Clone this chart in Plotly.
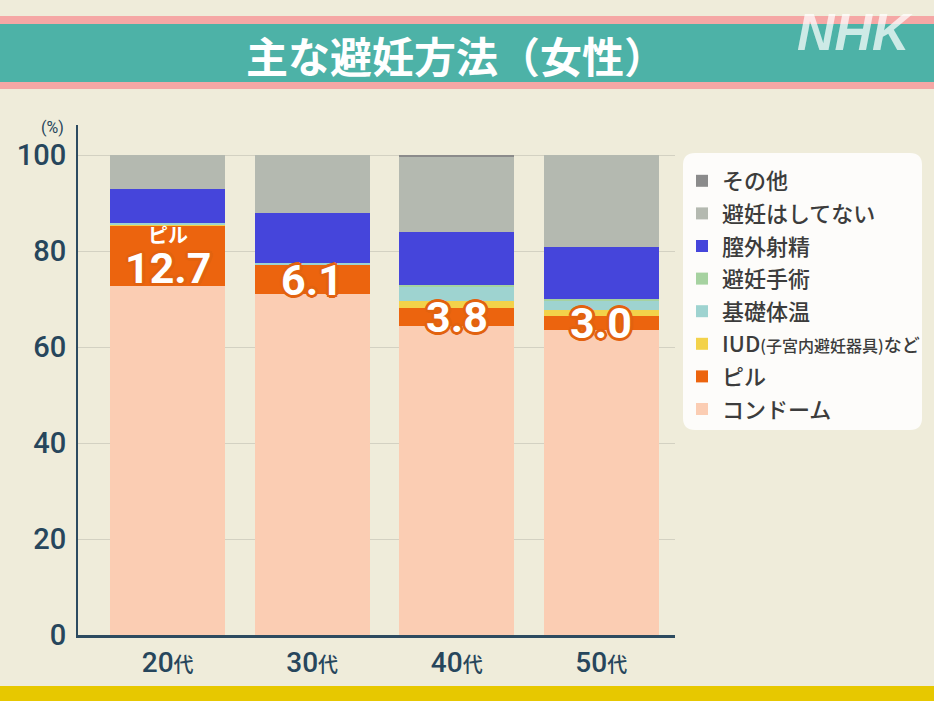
import plotly.graph_objects as go

categories = ["20代", "30代", "40代", "50代"]
tick_labels = ["20<span style='font-size:20px'>代</span>",
               "30<span style='font-size:20px'>代</span>",
               "40<span style='font-size:20px'>代</span>",
               "50<span style='font-size:20px'>代</span>"]

condom = [72.7, 71.0, 64.4, 63.5]
pill = [12.7, 6.1, 3.8, 3.0]
iud = [0.1, 0.0, 1.3, 1.2]
basal = [0.4, 0.4, 3.2, 2.0]
surgery = [0.0, 0.0, 0.3, 0.3]
withdrawal = [7.1, 10.4, 10.9, 10.8]
no_contra = [7.0, 12.1, 15.7, 19.2]
other = [0.0, 0.0, 0.4, 0.0]

series = [
    ("コンドーム", condom, "#FBCDB3"),
    ("ピル", pill, "#EC640E"),
    ("IUD<span style='font-size:16px'>(子宮内避妊器具)</span><span style='font-size:18px'>など</span>", iud, "#F3D24A"),
    ("基礎体温", basal, "#9ED3D0"),
    ("避妊手術", surgery, "#A6D2A0"),
    ("膣外射精", withdrawal, "#4545DB"),
    ("避妊はしてない", no_contra, "#B4B9B0"),
    ("その他", other, "#8B8B8B"),
]

W, H = 934, 701
L, R, T, B = 78, 259, 125, 66
PW, PH = W - L - R, H - T - B

def px(x):
    return (x - L) / PW

def py(y):
    return (H - B - y) / PH

fig = go.Figure()
n = len(series)
for i, (name, vals, col) in enumerate(series):
    fig.add_trace(go.Bar(
        x=categories, y=vals, name=name,
        marker=dict(color=col, line=dict(width=0)),
        legendgroup="g%d" % i, legendrank=n - i, hoverinfo="skip",
    ))

shapes = []
shapes.append(dict(type="rect", xref="paper", yref="paper", x0=px(0), x1=px(W), y0=py(24), y1=py(16),
                   fillcolor="#F5A7A5", line=dict(width=0), layer="below"))
shapes.append(dict(type="rect", xref="paper", yref="paper", x0=px(0), x1=px(W), y0=py(89), y1=py(82),
                   fillcolor="#F5A7A5", line=dict(width=0), layer="below"))
shapes.append(dict(type="rect", xref="paper", yref="paper", x0=px(0), x1=px(W), y0=py(82), y1=py(24),
                   fillcolor="#4DB2A7", line=dict(width=0), layer="below"))
shapes.append(dict(type="rect", xref="paper", yref="paper", x0=px(0), x1=px(W), y0=py(H), y1=py(686),
                   fillcolor="#E7C800", line=dict(width=0), layer="below"))
x0, x1, y0, y1, r = 683, 922, 153, 430, 12
path = (f"M {px(x0+r)},{py(y0)} L {px(x1-r)},{py(y0)} Q {px(x1)},{py(y0)} {px(x1)},{py(y0+r)} "
        f"L {px(x1)},{py(y1-r)} Q {px(x1)},{py(y1)} {px(x1-r)},{py(y1)} "
        f"L {px(x0+r)},{py(y1)} Q {px(x0)},{py(y1)} {px(x0)},{py(y1-r)} "
        f"L {px(x0)},{py(y0+r)} Q {px(x0)},{py(y0)} {px(x0+r)},{py(y0)} Z")
shapes.append(dict(type="path", xref="paper", yref="paper", path=path,
                   fillcolor="rgba(255,255,255,0.85)", line=dict(width=0), layer="below"))

outline = "#E2620F"
shadow = ", ".join(f"{dx}px {dy}px 0 {outline}" for dx, dy in
                   [(-2, -2), (2, -2), (-2, 2), (2, 2), (0, 3), (0, -3), (3, 0), (-3, 0)])

annotations = []
for i, c in enumerate(categories):
    mid = condom[i] + pill[i] / 2
    annotations.append(dict(
        x=c, y=mid, xref="x", yref="y", text=f"{pill[i]:.1f}", showarrow=False,
        xanchor="center", yanchor="middle",
        yshift=-12 if i == 0 else 0,
        font=dict(family="Roboto, Noto Sans CJK JP", size=43, color="white", weight=700, shadow=shadow),
    ))
annotations.append(dict(
    x=categories[0], y=condom[0] + pill[0] / 2, xref="x", yref="y", text="ピル", showarrow=False,
    xanchor="center", yanchor="middle",
    yshift=21, font=dict(family="Noto Sans CJK JP", size=20, color="white", weight=700),
))
annotations.append(dict(
    x=px(52), y=py(127), xref="paper", yref="paper", text="(%)", showarrow=False,
    xanchor="center", yanchor="middle",
    font=dict(family="Roboto, Noto Sans CJK JP", size=16, color="#27465C"),
))
annotations.append(dict(
    x=px(456), y=py(54), xref="paper", yref="paper", text="主な避妊方法（女性）", showarrow=False,
    xanchor="center", yanchor="middle",
    font=dict(family="Noto Sans CJK JP", size=42, color="white", weight=700),
))
annotations.append(dict(
    x=px(855), y=py(32), xref="paper", yref="paper", text="<b><i>NHK</i></b>", showarrow=False,
    xanchor="center", yanchor="middle",
    font=dict(family="Liberation Sans", size=52, color="rgba(255,255,255,0.72)"),
))

fig.update_layout(
    width=W, height=H,
    margin=dict(l=L, r=R, t=T, b=B, pad=0, autoexpand=False),
    paper_bgcolor="#EFECDA", plot_bgcolor="rgba(0,0,0,0)",
    barmode="stack", bargap=0.205,
    showlegend=True,
    legend=dict(
        xref="container", yref="container", x=682 / W, y=1 - 160 / H,
        xanchor="left", yanchor="top",
        traceorder="grouped", tracegroupgap=1,
        bgcolor="rgba(0,0,0,0)",
        font=dict(family="Noto Sans CJK JP", size=22, color="#3C3C3C", weight=500),
        itemclick=False, itemdoubleclick=False,
    ),
    xaxis=dict(
        range=[-0.62, 3.51], tickmode="array", tickvals=categories, ticktext=tick_labels,
        showline=True, linecolor="#2D4B60", linewidth=3, ticks="", showgrid=False,
        tickfont=dict(family="Roboto, Noto Sans CJK JP", size=28, color="#27465C", weight=500),
        fixedrange=True, automargin=False,
    ),
    yaxis=dict(
        range=[0, 106.25], tickvals=[0, 20, 40, 60, 80, 100],
        showline=True, linecolor="#2D4B60", linewidth=2, ticks="",
        showgrid=True, gridcolor="#D3D1C2", gridwidth=1, zeroline=False,
        tickfont=dict(family="Roboto, Noto Sans CJK JP", size=29, color="#27465C", weight=500),
        ticklabelstandoff=4,
        fixedrange=True, automargin=False,
    ),
    shapes=shapes,
    annotations=annotations,
)

fig.write_html("out.html", config={"displayModeBar": False},
               post_script="document.body.style.margin='0';document.body.style.padding='0';document.body.style.overflow='hidden';")
